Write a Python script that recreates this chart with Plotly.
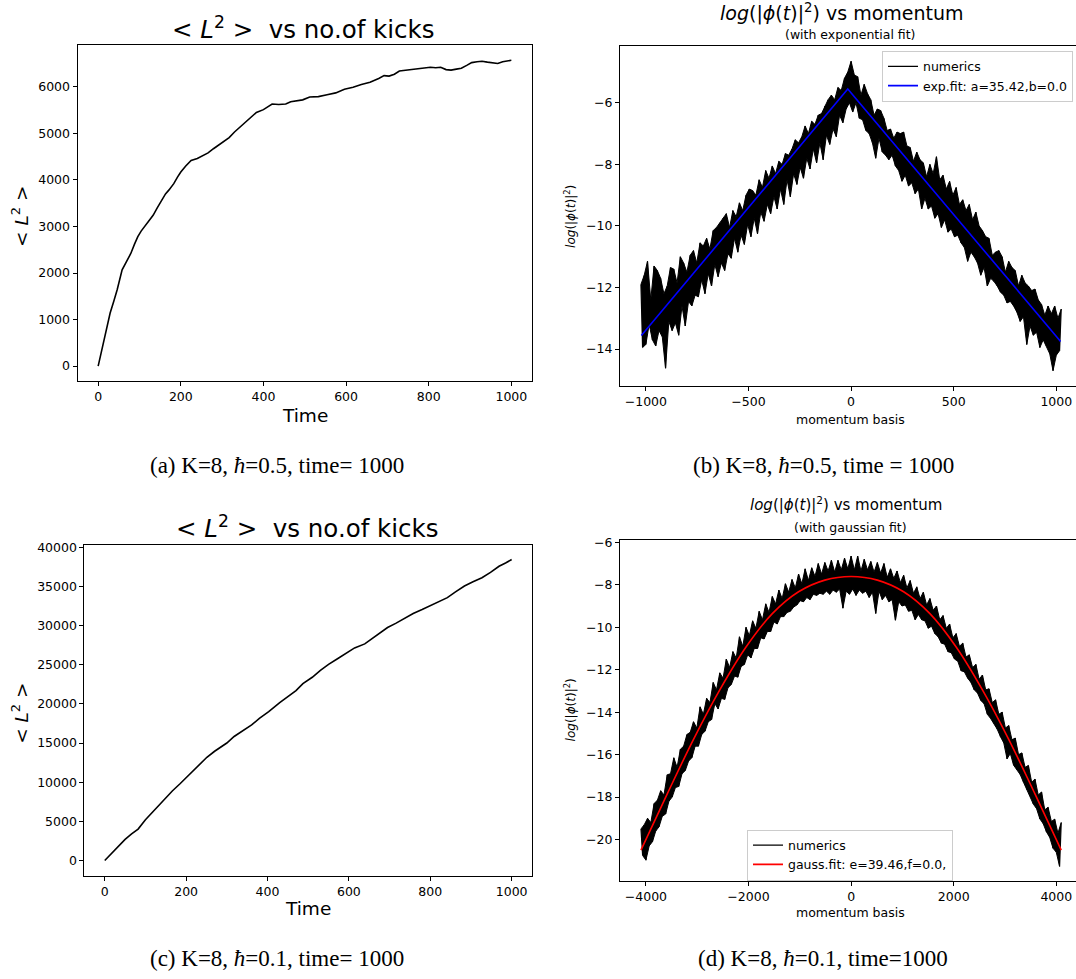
import numpy as np
import plotly.graph_objects as go

W, H = 1076, 979

# ---- <L^2> versus number of kicks, K=8, hbar=0.5 ----
t_a = [0, 6, 12, 20, 29, 38, 46, 58, 68, 79, 88, 96, 104, 112, 122, 133, 143, 154, 163, 171,
       183, 192, 200, 212, 225, 240, 254, 266, 279, 298, 317, 330, 346, 364, 383, 400, 410, 421,
       437, 454, 466, 479, 495, 512, 533, 554, 575, 596, 617, 637, 658, 679, 692, 704, 717, 729,
       746, 762, 783, 804, 817, 829, 842, 854, 867, 879, 892, 904, 917, 929, 942, 954, 967, 979,
       990, 1000]
l2_a = [0, 240, 500, 830, 1140, 1400, 1640, 2070, 2230, 2420, 2620, 2780, 2900, 3000, 3130, 3240,
        3400, 3560, 3700, 3780, 3920, 4060, 4170, 4300, 4420, 4460, 4520, 4580, 4670, 4790, 4910,
        5030, 5160, 5300, 5450, 5510, 5560, 5630, 5620, 5630, 5680, 5700, 5720, 5780, 5790, 5830,
        5870, 5950, 5990, 6050, 6100, 6180, 6240, 6230, 6270, 6340, 6360, 6370, 6400, 6420, 6410,
        6420, 6370, 6360, 6380, 6400, 6460, 6520, 6540, 6550, 6530, 6510, 6500, 6540, 6550, 6570]

# ---- <L^2> versus number of kicks, K=8, hbar=0.1 ----
t_c = [0, 15, 31, 50, 66, 82, 100, 124, 145, 166, 185, 200, 220, 240, 251, 270, 285, 300, 318,
       340, 361, 380, 403, 430, 454, 470, 487, 510, 530, 550, 572, 595, 614, 639, 656, 673, 695,
       715, 737, 758, 780, 800, 820, 842, 862, 884, 905, 927, 948, 969, 985, 1000]
l2_c = [0, 800, 1690, 2700, 3400, 4010, 5200, 6550, 7800, 8870, 9800, 10560, 11600, 12650, 13180,
        13950, 14440, 15000, 15840, 16600, 17310, 18150, 19000, 20150, 21110, 21700, 22590, 23400,
        24280, 25050, 25760, 26500, 27150, 27660, 28300, 28930, 29750, 30280, 30900, 31550, 32050,
        32520, 33050, 33570, 34300, 35050, 35600, 36110, 36800, 37580, 38000, 38430]

# ---- log|phi|^2 over the momentum basis, hbar=0.5 (every 8th state) ----
p_b = np.arange(-1024, 1025, 8)
logphi_b = [
    -11.9, -13.95, -11.6, -13.85, -11.15, -13.2, -12.4, -13.7, -11.3, -13.9,
    -11.45, -13.4, -11.7, -13.6, -12.2, -14.62, -11.95, -13.1, -11.35, -13.4,
    -11.4, -13.15, -11.85, -13.55, -11.0, -12.6, -11.2, -13.25, -11.5, -12.45,
    -10.95, -12.6, -10.8, -12.25, -11.2, -12.3, -10.55, -11.75, -10.65, -12.2,
    -10.4, -11.55, -10.75, -11.95, -10.15, -11.25, -10.05, -11.65, -9.9, -11.2,
    -9.75, -11.45, -9.6, -10.9, -10.05, -11.05, -9.5, -10.4, -9.7, -10.85,
    -9.25, -10.3, -9.5, -10.6, -9.0, -9.95, -8.8, -10.35, -8.85, -9.75,
    -9.0, -10.25, -8.5, -9.55, -8.75, -9.85, -8.2, -9.3, -8.45, -9.6,
    -8.05, -9.05, -8.3, -9.45, -7.9, -8.8, -8.0, -9.3, -7.65, -8.5,
    -7.7, -9.05, -7.5, -8.3, -7.2, -8.65, -7.3, -8.1, -7.1, -8.45,
    -6.75, -7.8, -7.0, -8.15, -6.6, -7.5, -6.7, -7.95, -6.4, -7.3,
    -6.35, -7.85, -6.1, -7.05, -5.9, -7.35, -5.75, -6.85, -5.9, -7.1,
    -5.5, -6.4, -5.6, -6.65, -5.2, -6.2, -5.0, -6.0, -4.65, -6.3,
    -5.1, -6.0, -5.15, -6.5, -5.75, -6.55, -5.4, -6.9, -5.7, -7.0,
    -5.9, -7.3, -6.4, -7.8, -6.2, -7.15, -6.25, -7.6, -6.5, -7.7,
    -6.9, -7.85, -6.85, -7.7, -7.15, -8.05, -6.95, -8.2, -7.0, -8.55,
    -6.95, -8.35, -7.4, -8.7, -7.45, -8.6, -7.9, -8.95, -7.6, -8.8,
    -7.85, -9.45, -7.95, -9.1, -8.4, -9.45, -8.0, -9.35, -8.3, -9.75,
    -7.75, -9.6, -8.5, -10.05, -8.35, -9.8, -8.8, -10.2, -8.55, -10.1,
    -9.0, -10.35, -8.75, -10.3, -9.3, -10.55, -9.15, -10.7, -9.5, -11.15,
    -9.3, -10.85, -9.8, -11.0, -9.55, -11.2, -10.0, -11.6, -10.15, -11.35,
    -10.35, -11.95, -10.4, -11.7, -10.95, -11.8, -10.85, -11.95, -10.8, -12.15,
    -11.0, -12.25, -11.5, -12.5, -11.15, -12.45, -11.35, -12.6, -11.45, -12.8,
    -11.95, -13.1, -11.6, -12.95, -11.85, -13.85, -11.95, -13.25, -12.1, -13.55,
    -12.05, -13.45, -12.4, -13.95, -12.55, -13.7, -12.9, -13.9, -12.6, -14.15,
    -12.85, -14.7, -12.6, -14.2, -13.0, -14.05, -12.7]
expfit_p = [-1022, -16, 1021]
expfit_y = [-13.56, -5.55, -13.75]

# ---- log|phi|^2 over the momentum basis, hbar=0.1 (every 32nd state) ----
p_d = np.arange(-4096, 4097, 32)
logphi_d = [
    -19.5, -20.75, -19.3, -20.97, -19.0, -20.3, -19.2, -20.1, -18.3, -19.6,
    -18.15, -19.4, -17.7, -18.9, -17.9, -18.8, -16.95, -18.2, -16.9, -18.0,
    -16.15, -17.55, -16.6, -17.5, -15.75, -16.9, -15.6, -16.75, -15.05, -16.3,
    -14.95, -16.15, -14.45, -15.6, -14.75, -15.6, -13.75, -15.05, -14.1, -14.9,
    -13.35, -14.45, -13.55, -14.35, -12.6, -13.6, -12.95, -13.85, -12.15, -13.35,
    -12.4, -13.4, -11.5, -12.85, -11.9, -12.7, -11.15, -12.3, -11.45, -12.35,
    -10.45, -11.85, -10.9, -11.75, -10.0, -11.3, -10.4, -11.45, -9.7, -11.0,
    -10.05, -11.0, -9.25, -10.5, -9.65, -10.55, -8.9, -10.2, -9.3, -10.2,
    -8.55, -9.75, -8.9, -9.85, -8.25, -9.5, -8.65, -9.5, -7.95, -9.3,
    -8.35, -9.25, -7.75, -9.05, -8.15, -8.95, -7.5, -8.75, -7.95, -8.8,
    -7.25, -8.6, -7.8, -8.7, -7.2, -8.45, -7.6, -8.5, -7.0, -8.4,
    -7.5, -8.45, -6.95, -8.3, -7.35, -8.45, -6.85, -8.25, -7.4, -8.35,
    -6.85, -8.2, -7.3, -9.1, -6.75, -8.3, -7.25, -8.45, -6.65, -8.2,
    -7.3, -8.5, -6.65, -8.25, -7.35, -8.4, -6.8, -8.3, -7.3, -8.6,
    -6.9, -8.35, -7.4, -9.35, -6.95, -8.3, -7.45, -8.7, -7.0, -8.5,
    -7.65, -8.8, -7.25, -8.7, -7.7, -9.67, -7.35, -8.8, -7.9, -9.0,
    -7.55, -8.95, -8.15, -9.25, -7.8, -9.2, -8.4, -9.65, -8.1, -9.4,
    -8.65, -9.65, -8.35, -9.7, -8.95, -10.05, -8.65, -9.95, -9.2, -10.3,
    -9.0, -10.45, -9.65, -10.75, -9.45, -10.8, -10.05, -11.15, -9.85, -11.2,
    -10.5, -11.5, -10.3, -11.6, -10.9, -12.05, -10.75, -12.1, -11.4, -12.4,
    -11.3, -12.6, -11.9, -12.95, -11.75, -13.1, -12.45, -13.45, -12.25, -13.6,
    -12.95, -14.1, -12.9, -14.3, -13.55, -14.52, -13.42, -14.8, -14.1, -15.16,
    -14.0, -15.45, -14.75, -16.2, -14.63, -15.95, -15.3, -16.5, -15.22, -16.7,
    -16.0, -16.94, -15.92, -17.3, -16.6, -17.64, -16.51, -17.95, -17.3, -18.33,
    -17.15, -18.55, -17.9, -19.03, -17.76, -19.25, -18.6, -19.64, -18.48, -19.9,
    -19.15, -20.41, -19.04, -20.6, -19.7, -21.27, -19.2]
gaussfit_p = np.arange(-4096, 4097, 512)
gaussfit_y = [-20.5, -17.85, -15.28, -12.95, -10.93, -9.36, -8.33, -7.78, -7.61,
              -7.78, -8.33, -9.36, -10.93, -12.95, -15.28, -17.85, -20.5]

# ---- tick labels ----
ticks_time = [0, 200, 400, 600, 800, 1000]
ticks_l2_a = [0, 1000, 2000, 3000, 4000, 5000, 6000]
ticks_l2_c = [0, 5000, 10000, 15000, 20000, 25000, 30000, 35000, 40000]
ticks_p_b = [-1000, -500, 0, 500, 1000]
ticklabels_p_b = ["\u22121000", "\u2212500", "0", "500", "1000"]
ticks_y_b = [-6, -8, -10, -12, -14]
ticklabels_y_b = ["\u22126", "\u22128", "\u221210", "\u221212", "\u221214"]
ticks_p_d = [-4000, -2000, 0, 2000, 4000]
ticklabels_p_d = ["\u22124000", "\u22122000", "0", "2000", "4000"]
ticks_y_d = [-6, -8, -10, -12, -14, -16, -18, -20]
ticklabels_y_d = ["\u22126", "\u22128", "\u221210", "\u221212", "\u221214", "\u221216", "\u221218", "\u221220"]

FONT = "DejaVu Sans"
SERIF = "Liberation Serif"


def fx(px):
    return px / W


def fy(py):
    return 1 - py / H


def axis(domain, rng, tickvals, ticktext=None, mirror=True, anchor=None, fmt="d"):
    d = dict(domain=domain, range=rng, tickvals=tickvals, showline=True, linecolor="black",
             linewidth=1, mirror=mirror, ticks="outside", ticklen=4, tickwidth=1,
             tickcolor="black", showgrid=False, zeroline=False, anchor=anchor,
             tickfont=dict(family=FONT, size=12.5, color="black"))
    if ticktext is not None:
        d["ticktext"] = ticktext
        d["tickmode"] = "array"
    else:
        d["tickformat"] = fmt
    return d


def band_traces(p, vals, xa, ya, legend):
    """Noisy spectrum: solid fill between the up/down swings, then the trace itself."""
    p = list(p)
    lower = go.Scatter(x=p[1::2], y=vals[1::2], mode="lines", line=dict(color="black", width=1),
                       xaxis=xa, yaxis=ya, showlegend=False, hoverinfo="skip")
    upper = go.Scatter(x=p[0::2], y=vals[0::2], mode="lines", fill="tonexty", fillcolor="black",
                       line=dict(color="black", width=1), xaxis=xa, yaxis=ya,
                       showlegend=False, hoverinfo="skip")
    trace = go.Scatter(x=p, y=vals, mode="lines", name="numerics",
                       line=dict(color="black", width=1.2), xaxis=xa, yaxis=ya,
                       legend=legend, hoverinfo="skip")
    return [lower, upper, trace]


fig = go.Figure()

# (a)
fig.add_trace(go.Scatter(x=t_a, y=l2_a, mode="lines", line=dict(color="black", width=1.6),
                         xaxis="x", yaxis="y", showlegend=False, hoverinfo="skip"))

# (b)
for tr in band_traces(p_b, logphi_b, "x2", "y2", "legend"):
    fig.add_trace(tr)
fig.add_trace(go.Scatter(x=expfit_p, y=expfit_y, mode="lines", name="exp.fit: a=35.42,b=0.0",
                         line=dict(color="blue", width=1.6), xaxis="x2", yaxis="y2",
                         legend="legend", hoverinfo="skip"))

# (c)
fig.add_trace(go.Scatter(x=t_c, y=l2_c, mode="lines", line=dict(color="black", width=1.6),
                         xaxis="x3", yaxis="y3", showlegend=False, hoverinfo="skip"))

# (d)
for tr in band_traces(p_d, logphi_d, "x4", "y4", "legend2"):
    fig.add_trace(tr)
fig.add_trace(go.Scatter(x=list(gaussfit_p), y=gaussfit_y, mode="lines",
                         name="gauss.fit: e=39.46,f=0.0,",
                         line=dict(color="red", width=1.6, shape="spline", smoothing=1.0),
                         xaxis="x4", yaxis="y4", legend="legend2", hoverinfo="skip"))

L2 = "&lt;&nbsp;<i>L</i><sup>2</sup>&nbsp;&gt;"
LOGPHI = "<i>log</i>(|<i>\u03d5</i>(<i>t</i>)|<sup>2</sup>)"


def note(s, x, y, size, family=FONT, angle=0):
    return dict(text=s, x=fx(x), y=fy(y), xref="paper", yref="paper", xanchor="center",
                yanchor="middle", showarrow=False, textangle=angle,
                font=dict(family=family, size=size, color="black"))


annotations = [
    # (a)
    note(L2 + "&nbsp;&nbsp;vs no.of kicks", 303, 23, 24.5),
    note("Time", 304.5, 413, 18.5),
    note(L2, 20, 213, 18.5, angle=-90),
    # (b)
    note(LOGPHI + " vs momentum", 842, 7.5, 19),
    note("(with exponential fit)", 850, 29.5, 12.5),
    note("momentum basis", 850, 416.5, 12.5),
    note(LOGPHI, 570, 213, 12, angle=-90),
    # (c)
    note(L2 + "&nbsp;&nbsp;vs no.of kicks", 307, 525, 24.5),
    note("Time", 308, 908, 18.5),
    note(L2, 20.5, 712, 18.5, angle=-90),
    # (d)
    note(LOGPHI + " vs momentum", 846, 501.5, 15),
    note("(with gaussian fit)", 850, 525, 12.5),
    note("momentum basis", 850, 912, 12.5),
    note(LOGPHI, 570, 709, 12, angle=-90),
    # captions
    note("(a) K=8, <i>\u0127</i>=0.5, time= 1000", 277, 463, 23, family=SERIF),
    note("(b) K=8, <i>\u0127</i>=0.5, time = 1000", 823, 463, 23, family=SERIF),
    note("(c) K=8, <i>\u0127</i>=0.1, time= 1000", 277, 958, 23, family=SERIF),
    note("(d) K=8, <i>\u0127</i>=0.1, time=1000", 823, 958, 23, family=SERIF),
]

legend_style = dict(bgcolor="rgba(255,255,255,0.8)", bordercolor="#cccccc", borderwidth=1,
                    font=dict(family=FONT, size=12.5, color="black"), tracegroupgap=0,
                    itemwidth=30, xref="paper", yref="paper", traceorder="normal")

fig.update_layout(
    width=W, height=H, margin=dict(l=0, r=0, t=0, b=0),
    paper_bgcolor="white", plot_bgcolor="white", showlegend=True,
    annotations=annotations,
    xaxis=axis([fx(77.5), fx(532)], [-50, 1050], ticks_time, anchor="y"),
    yaxis=axis([fy(378.3), fy(40.7)], [-328, 6888], ticks_l2_a, anchor="x"),
    xaxis2=axis([fx(620), 1.0], [-1126, 1096], ticks_p_b, ticklabels_p_b, anchor="y2"),
    yaxis2=axis([fy(383.3), fy(41.7)], [-15.21, -4.17], ticks_y_b, ticklabels_y_b,
                mirror=False, anchor="x2"),
    xaxis3=axis([fx(84.4), fx(532)], [-50, 1050], ticks_time, anchor="y3"),
    yaxis3=axis([fy(875), fy(542.3)], [-1921, 40351], ticks_l2_c, anchor="x3"),
    xaxis4=axis([fx(620), 1.0], [-4505, 4384], ticks_p_d, ticklabels_p_d, anchor="y4"),
    yaxis4=axis([fy(880), fy(537.3)], [-21.93, -5.87], ticks_y_d, ticklabels_y_d,
                mirror=False, anchor="x4"),
    legend=dict(x=fx(1073), y=fy(46), xanchor="right", yanchor="top", **legend_style),
    legend2=dict(x=fx(850), y=fy(880), xanchor="center", yanchor="bottom", **legend_style),
)

fig.write_html("out.html", config={"displayModeBar": False})
